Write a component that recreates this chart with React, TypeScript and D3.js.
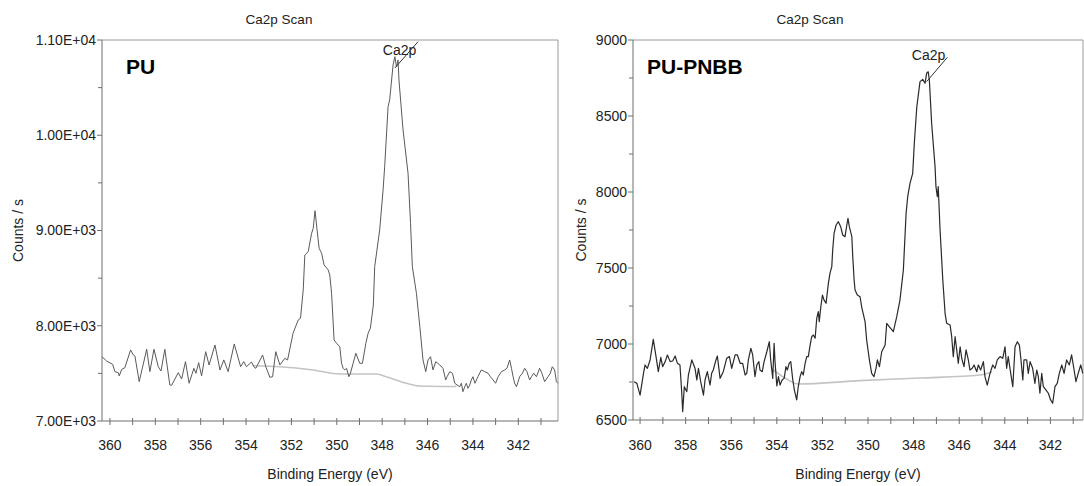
import React from 'react';
import * as d3 from 'd3';

// ---------- DATA ----------
const xTickLabels = [360, 358, 356, 354, 352, 350, 348, 346, 344, 342];

const puEnergy = [360.35,360.15,359.88,359.78,359.63,359.59,359.48,359.34,359.09,358.97,
358.90,358.71,358.38,358.24,358.06,357.87,357.75,357.58,357.36,357.28,
356.99,356.84,356.67,356.51,356.30,356.21,356.09,355.96,355.78,355.63,
355.37,355.15,354.98,354.79,354.52,354.24,354.10,353.98,353.76,353.66,
353.57,353.27,353.13,352.95,352.83,352.69,352.51,352.29,352.17,351.97,
351.93,351.70,351.60,351.48,351.41,351.26,351.11,351.04,350.96,350.87,
350.78,350.67,350.56,350.38,350.31,350.23,350.12,350.01,349.87,349.79,
349.72,349.65,349.57,349.47,349.40,349.28,349.16,348.99,348.87,348.72,
348.62,348.52,348.39,348.33,348.11,347.96,347.89,347.74,347.67,347.52,
347.44,347.37,347.30,347.26,347.08,346.86,346.75,346.67,346.49,346.34,
346.20,346.08,345.98,345.87,345.76,345.64,345.46,345.32,345.20,345.14,
345.02,344.90,344.80,344.70,344.58,344.51,344.44,344.36,344.29,344.22,
344.14,344.07,344.00,343.91,343.78,343.63,343.48,343.33,343.23,343.11,
343.00,342.89,342.74,342.60,342.50,342.38,342.30,342.23,342.16,342.08,
341.94,341.82,341.72,341.62,341.50,341.42,341.32,341.20,341.06,340.96,
340.84,340.69,340.59,340.50,340.40,340.32,340.26];

const puCounts = [7675,7630,7595,7518,7507,7473,7543,7560,7746,7693,
7683,7413,7753,7518,7753,7570,7525,7753,7378,7375,
7507,7441,7623,7396,7553,7501,7612,7473,7728,7588,
7798,7536,7641,7518,7809,7570,7623,7570,7620,7570,
7553,7693,7570,7459,7465,7728,7588,7658,7641,7872,
7921,8061,8078,8376,8743,8778,8971,9023,9208,9006,
8813,8761,8638,8586,8533,8341,7851,7816,7780,7606,
7553,7536,7553,7465,7501,7606,7711,7606,7606,7816,
7921,7974,8218,8620,9006,9426,9670,10300,10371,10738,
10825,10720,10791,10581,10056,9601,9076,8620,8341,7990,
7641,7518,7641,7675,7536,7623,7588,7553,7431,7465,
7518,7501,7396,7378,7360,7396,7308,7360,7396,7343,
7378,7431,7465,7396,7465,7536,7518,7501,7465,7431,
7396,7465,7518,7536,7553,7641,7553,7465,7396,7360,
7465,7501,7553,7518,7431,7465,7501,7465,7553,7501,
7413,7465,7501,7570,7536,7413,7396];

const puBgEnergy = [353.70, 352.51, 351.04, 349.87, 348.25, 347.81, 346.93, 346.34, 344.73];
const puBgCounts = [7581, 7570, 7536, 7494, 7494, 7465, 7396, 7368, 7362];

const pnbbEnergy = [360.26,360.14,360.00,359.85,359.78,359.68,359.56,359.42,359.30,359.20,
359.09,359.01,358.90,358.80,358.68,358.57,358.46,358.36,358.25,358.17,
358.13,358.06,357.95,357.88,357.73,357.59,357.51,357.44,357.34,357.22,
357.15,357.05,356.93,356.86,356.79,356.67,356.61,356.49,356.35,356.20,
356.08,355.98,355.83,355.73,355.61,355.50,355.39,355.32,355.25,355.14,
355.06,354.96,354.88,354.79,354.74,354.64,354.56,354.44,354.33,354.27,
354.18,354.12,354.08,354.00,353.93,353.86,353.77,353.68,353.60,353.54,
353.46,353.39,353.30,353.23,353.13,353.06,352.98,352.91,352.84,352.76,
352.69,352.62,352.54,352.47,352.40,352.32,352.25,352.18,352.14,352.07,
352.00,351.93,351.84,
351.74,351.67,351.59,351.55,351.49,351.40,351.30,351.20,351.11,351.01,
350.93,350.88,350.82,350.71,350.67,350.61,350.57,350.47,
350.35,350.28,350.13,350.06,349.94,349.84,349.74,349.65,349.59,349.50,
349.40,349.25,349.18,349.07,348.89,348.74,348.60,348.45,348.33,348.26,
348.16,348.04,347.97,347.86,347.72,347.60,347.50,347.43,347.36,347.31,
347.21,347.06,347.02,346.96,346.92,346.84,346.72,346.62,346.55,346.40,
346.33,346.26,346.18,346.11,346.04,345.96,345.89,345.79,345.70,345.60,
345.53,345.43,345.35,345.23,345.16,345.06,344.94,344.87,344.77,344.65,
344.53,344.43,344.33,344.21,344.09,343.99,343.92,343.85,343.74,343.65,
343.55,343.45,343.36,343.29,343.21,343.16,343.04,342.97,342.89,342.78,
342.68,342.60,342.53,342.46,342.38,342.31,342.19,342.09,341.99,341.90,
341.80,341.70,341.61,341.50,341.40,341.29,341.17,341.07,340.96,340.88,
340.78,340.67,340.58];

const pnbbCounts = [6752,6741,6664,6807,6862,6840,6895,7031,6917,6818,
6912,6851,6884,6928,6884,6888,6921,6873,6862,6676,
6555,6719,6686,6796,6895,6840,6763,6840,6752,6664,
6763,6818,6730,6807,6829,6895,6921,6774,6818,6906,
6917,6840,6928,6928,6873,6873,6796,6807,6895,6972,
6928,6785,6862,6884,6829,6818,6884,6949,7015,6895,
6774,7005,6884,6724,6785,6730,6763,6774,6851,6829,
6873,6884,6763,6697,6632,6719,6785,6818,6796,6873,
6917,6917,6993,7048,7059,7038,7169,7213,7147,7245,
7322,7289,7268,
7399,7465,7509,7618,7728,7783,7805,7772,7717,7706,
7783,7827,7772,7706,7574,7421,7355,7322,
7311,7245,7147,7026,6895,6807,6785,6840,6895,6851,
6949,6993,7136,7114,7081,7180,7289,7487,7860,7969,
8057,8123,8320,8561,8726,8741,8715,8781,8791,8737,
8452,8167,8035,7969,8035,7750,7421,7202,7136,7125,
7048,6917,7048,6961,6873,6982,6906,6851,6961,6895,
6829,6840,6862,6818,6862,6829,6884,6785,6730,6807,
6862,6840,6895,6917,6906,6982,6840,6917,6807,6719,
6982,7015,6993,6895,6763,6895,6895,6807,6884,6840,
6741,6829,6785,6676,6807,6719,6697,6676,6632,6610,
6719,6741,6807,6862,6807,6895,6862,6928,6829,6752,
6807,6862,6807];

const pnbbBgEnergy = [354.15, 353.64, 353.06, 350.35, 347.72, 345.09, 344.56];
const pnbbBgCounts = [6829, 6776, 6737, 6759, 6776, 6796, 6816];

const puYTicks = [7000, 8000, 9000, 10000, 11000];
const puYMinor = [7500, 8500, 9500, 10500];
const pnbbYTicks = [6500, 7000, 7500, 8000, 8500, 9000];
const pnbbYMinor = [6750, 7250, 7750, 8250, 8750];

// annotation: text anchor and leader line, in data units [eV, counts]
const puAnnot = { text: [347.97, 10843], from: [347.44, 10706], to: [346.42, 10982] };
const pnbbAnnot = { text: [348.08, 8868], from: [347.43, 8726], to: [346.52, 8886] };

// ---------- HELPERS ----------
const FONT = 'Arial, "Liberation Sans", Helvetica, sans-serif';

function sci(v: number): string {
  const e = Math.floor(Math.log10(v));
  const m = v / Math.pow(10, e);
  return `${m.toFixed(2)}E+${String(e).padStart(2, '0')}`;
}

type PanelProps = {
  left: number; right: number; top: number; bottom: number;
  xDomain: [number, number]; yDomain: [number, number];
  energy: number[]; counts: number[];
  bgE: number[]; bgC: number[];
  yTicks: number[]; yMinor: number[]; fmt: (v: number) => string;
  sample: string; sampleDx: number; titleX: number; yLabelX: number;
  annot: { text: number[]; from: number[]; to: number[] };
  lineColor: string; lineWidth: number;
};

function Panel(p: PanelProps) {
  const x = d3.scaleLinear().domain(p.xDomain).range([p.left, p.right]);
  const y = d3.scaleLinear().domain(p.yDomain).range([p.bottom, p.top]);
  const n = Math.min(p.energy.length, p.counts.length);
  const pts: [number, number][] = d3.range(n).map(i => [p.energy[i], p.counts[i]]);
  const bg: [number, number][] = d3.range(Math.min(p.bgE.length, p.bgC.length)).map(i => [p.bgE[i], p.bgC[i]]);
  const line = d3.line<[number, number]>().x(d => x(d[0])).y(d => y(d[1]));
  const bgLine = d3.line<[number, number]>().x(d => x(d[0])).y(d => y(d[1])).curve(d3.curveMonotoneX);
  const lo = Math.ceil(Math.min(...p.xDomain));
  const hi = Math.floor(Math.max(...p.xDomain));
  const minorX = d3.range(lo, hi + 1);
  const axisColor = '#6e6e6e';
  const frameColor = '#9a9a9a';
  return (
    <g>
      <text x={p.titleX} y={24} textAnchor="middle" fontFamily={FONT} fontSize={13.5} fill="#222">Ca2p Scan</text>
      {/* frame */}
      <line x1={p.left} x2={p.right} y1={p.top} y2={p.top} stroke={frameColor} strokeWidth={1} />
      <line x1={p.right} x2={p.right} y1={p.top} y2={p.bottom} stroke={frameColor} strokeWidth={1} />
      <line x1={p.left} x2={p.left} y1={p.top} y2={p.bottom} stroke={axisColor} strokeWidth={1} />
      <line x1={p.left} x2={p.right} y1={p.bottom} y2={p.bottom} stroke={axisColor} strokeWidth={1} />
      {/* y ticks */}
      {p.yTicks.map(t => (
        <g key={'yt' + t}>
          <line x1={p.left - 5} x2={p.left} y1={y(t)} y2={y(t)} stroke={axisColor} />
          <text x={p.left - 6} y={y(t)} dy="0.35em" textAnchor="end" fontFamily={FONT} fontSize={14} fill="#222">{p.fmt(t)}</text>
        </g>
      ))}
      {p.yMinor.map(t => (
        <line key={'ym' + t} x1={p.left - 4} x2={p.left} y1={y(t)} y2={y(t)} stroke={axisColor} />
      ))}
      {/* x ticks */}
      {minorX.map(t => (
        <line key={'xt' + t} x1={x(t)} x2={x(t)} y1={p.bottom - 3} y2={p.bottom + 4} stroke={axisColor} />
      ))}
      {xTickLabels.map(t => (
        <text key={'xl' + t} x={x(t)} y={450} textAnchor="middle" fontFamily={FONT} fontSize={14} fill="#222">{t}</text>
      ))}
      <text x={(p.left + p.right) / 2} y={479} textAnchor="middle" fontFamily={FONT} fontSize={14} fill="#222">Binding Energy (eV)</text>
      <text transform={`translate(${p.yLabelX},${(p.top + p.bottom) / 2}) rotate(-90)`} textAnchor="middle" dy="0.35em" fontFamily={FONT} fontSize={14} fill="#222">Counts / s</text>
      {/* background */}
      <path d={bgLine(bg) || ''} fill="none" stroke="#c4c4c4" strokeWidth={1.6} />
      {/* spectrum */}
      <path d={line(pts) || ''} fill="none" stroke={p.lineColor} strokeWidth={p.lineWidth} strokeLinejoin="round" />
      {/* sample label */}
      <text x={p.left + p.sampleDx} y={74} fontFamily={FONT} fontSize={21} fontWeight="bold" fill="#000">{p.sample}</text>
      {/* annotation */}
      <text x={x(p.annot.text[0])} y={y(p.annot.text[1])} fontFamily={FONT} fontSize={14} fill="#222">Ca2p</text>
      <line x1={x(p.annot.from[0])} y1={y(p.annot.from[1])} x2={x(p.annot.to[0])} y2={y(p.annot.to[1])} stroke="#333" strokeWidth={1} />
    </g>
  );
}

export default function App() {
  return (
    <div style={{ position: 'absolute', left: 0, top: 0, width: 1084, height: 486, background: '#fff' }}>
      <svg width={1084} height={486} viewBox="0 0 1084 486" style={{ display: 'block' }}>
        <rect x={0} y={0} width={1084} height={486} fill="#fff" />
        <Panel left={102} right={558} top={40} bottom={421}
          xDomain={[360.35, 340.25]} yDomain={[7000, 11000]}
          energy={puEnergy} counts={puCounts} bgE={puBgEnergy} bgC={puBgCounts}
          yTicks={puYTicks} yMinor={puYMinor} fmt={sci}
          sample="PU" sampleDx={24} titleX={279} yLabelX={18} annot={puAnnot}
          lineColor="#5a5a5a" lineWidth={1} />
        <Panel left={633} right={1083} top={40} bottom={420}
          xDomain={[360.31, 340.57]} yDomain={[6500, 9000]}
          energy={pnbbEnergy} counts={pnbbCounts} bgE={pnbbBgEnergy} bgC={pnbbBgCounts}
          yTicks={pnbbYTicks} yMinor={pnbbYMinor} fmt={(v: number) => String(v)}
          sample="PU-PNBB" sampleDx={14} titleX={810} yLabelX={581} annot={pnbbAnnot}
          lineColor="#2a2a2a" lineWidth={1.2} />
      </svg>
    </div>
  );
}
